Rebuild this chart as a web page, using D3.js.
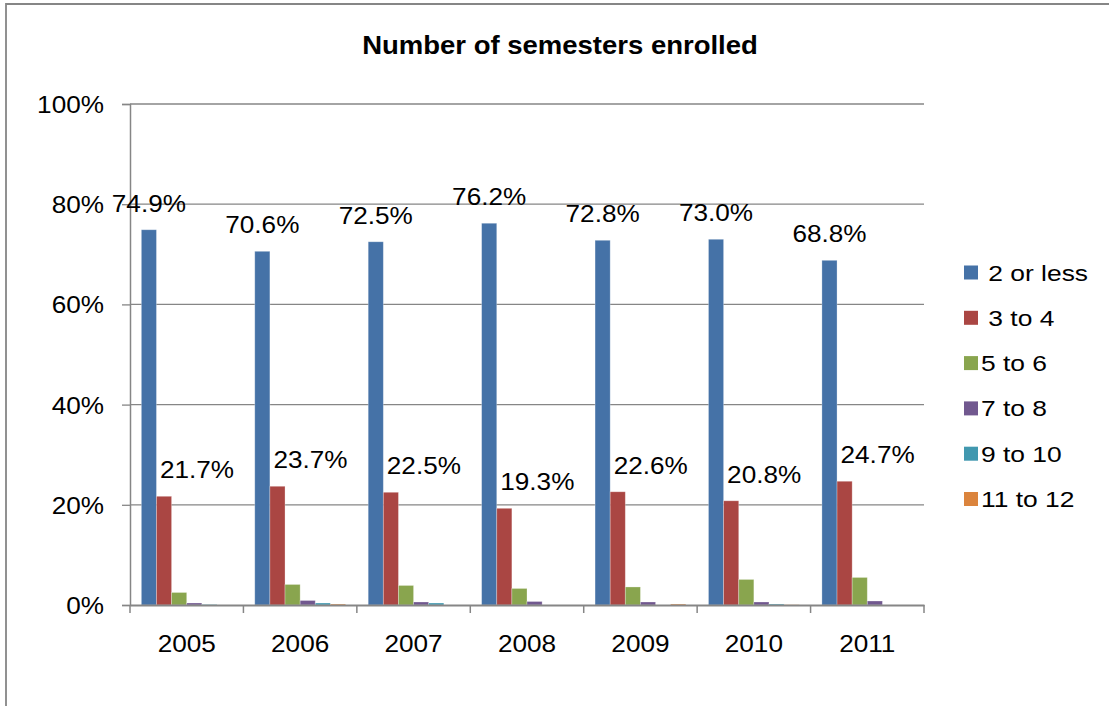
<!DOCTYPE html>
<html>
<head>
<meta charset="utf-8">
<script src="https://cdn.jsdelivr.net/npm/d3@7"></script>
<style>
  html, body { margin: 0; padding: 0; background: #fff; }
  svg { display: block; font-family: "Liberation Sans", Arial, sans-serif; }
  text { white-space: pre; }
</style>
</head>
<body>
<svg id="chart" width="1109" height="706"></svg>
<script>
// Share of students by number of semesters enrolled, per year (%)
const years = ["2005", "2006", "2007", "2008", "2009", "2010", "2011"];
const seriesNames = [" 2 or less", " 3 to 4", "5 to 6", "7 to 8", "9 to 10", "11 to 12"];
const twoOrLess   = [74.9, 70.6, 72.5, 76.2, 72.8, 73.0, 68.8];
const threeToFour = [21.7, 23.7, 22.5, 19.3, 22.6, 20.8, 24.7];
const fiveToSix   = [2.5, 4.1, 3.9, 3.3, 3.6, 5.1, 5.5];
const sevenToEight = [0.4, 0.9, 0.6, 0.7, 0.6, 0.6, 0.8];
const nineToTen   = [0.1, 0.4, 0.4, 0.0, 0.0, 0.2, 0.0];
const elevenToTwelve = [0.0, 0.2, 0.0, 0.0, 0.2, 0.05, 0.0];
const yTicks = [0, 20, 40, 60, 80, 100];
const colors = ["#4572A7", "#AA4643", "#89A54E", "#71588F", "#4198AF", "#DB843D"];

const seriesValues = [twoOrLess, threeToFour, fiveToSix, sevenToEight, nineToTen, elevenToTwelve];
const labelledSeries = [0, 1];

const svg = d3.select("#chart");
const axisColor = "#868686";
const stretch = 1.09;

// outer chart frame
svg.append("path")
  .attr("d", "M6,712 L6,4 L1115,4")
  .attr("fill", "none").attr("stroke", axisColor).attr("stroke-width", 1.8);

const plot = { left: 130, right: 924, top: 104, bottom: 605 };

const x0 = d3.scaleBand().domain(years).range([plot.left, plot.right]).paddingInner(0).paddingOuter(0);
// gap between clusters equals 1.5 bar widths
const barW = x0.bandwidth() / (seriesNames.length + 1.5);
const x1 = d3.scaleBand().domain(d3.range(seriesNames.length))
  .range([barW * 0.75, barW * 0.75 + barW * seriesNames.length]);
const y = d3.scaleLinear().domain([0, 100]).range([plot.bottom, plot.top]);

function stretchedText(sel, x, yy) {
  return sel.attr("transform", `translate(${x},${yy}) scale(${stretch},1)`);
}

// gridlines
svg.append("g").selectAll("line").data(yTicks.filter(t => t > 0)).join("line")
  .attr("x1", plot.left).attr("x2", plot.right)
  .attr("y1", d => y(d)).attr("y2", d => y(d))
  .attr("stroke", axisColor).attr("stroke-width", 1.3);

// y axis
const yAxis = svg.append("g").attr("transform", `translate(${plot.left},0)`)
  .call(d3.axisLeft(y).tickValues(yTicks).tickSize(8).tickFormat(d => d + "%"));
yAxis.select(".domain").attr("stroke", axisColor).attr("stroke-width", 1.5);
yAxis.selectAll(".tick line").attr("stroke", axisColor).attr("stroke-width", 1.3);
yAxis.selectAll(".tick text").remove();
yAxis.selectAll(".tick").append("text")
  .attr("text-anchor", "end").attr("fill", "#000").attr("font-size", 24)
  .attr("transform", `translate(-26,8.5) scale(${stretch},1)`)
  .text(d => d + "%");

// bars
const groups = svg.append("g").selectAll("g").data(years).join("g")
  .attr("transform", d => `translate(${x0(d)},0)`);
groups.selectAll("rect")
  .data((yr, i) => seriesValues.map((vals, s) => ({ s, v: vals[i] })))
  .join("rect")
  .attr("x", d => x1(d.s))
  .attr("width", x1.bandwidth())
  .attr("y", d => y(d.v))
  .attr("height", d => y(0) - y(d.v))
  .attr("fill", d => colors[d.s])
  .attr("stroke", "rgba(255,255,255,0.35)").attr("stroke-width", 0.8);

// x axis
const xAxis = svg.append("g").attr("transform", `translate(0,${plot.bottom})`)
  .call(d3.axisBottom(x0).tickSize(0).tickFormat(""));
xAxis.select(".domain").attr("stroke", axisColor).attr("stroke-width", 1.8);
xAxis.selectAll(".tick").remove();
const boundaries = years.map(d => x0(d)).concat([plot.right]);
xAxis.selectAll(".bnd").data(boundaries).join("line").attr("class", "bnd")
  .attr("x1", d => d).attr("x2", d => d).attr("y1", 0).attr("y2", 8)
  .attr("stroke", axisColor).attr("stroke-width", 1.5);
svg.append("g").selectAll("text").data(years).join("text")
  .attr("text-anchor", "middle").attr("font-size", 24).attr("fill", "#000")
  .each(function (d) { stretchedText(d3.select(this), x0(d) + x0.bandwidth() / 2, 652); })
  .text(d => d);

// value labels for the two largest series
const labelOffset = [0, 33];
labelledSeries.forEach(s => {
  svg.append("g").selectAll("text").data(years).join("text")
    .attr("text-anchor", "middle").attr("font-size", 24).attr("fill", "#000")
    .each(function (d, i) {
      const cx = x0(d) + x1(s) + x1.bandwidth() / 2 + labelOffset[s];
      stretchedText(d3.select(this), cx, y(seriesValues[s][i]) - 18);
    })
    .text((d, i) => seriesValues[s][i].toFixed(1) + "%");
});

// title
svg.append("text")
  .attr("text-anchor", "middle").attr("font-size", 25).attr("font-weight", "bold").attr("fill", "#000")
  .attr("transform", `translate(560,54) scale(1.1,1)`)
  .text("Number of semesters enrolled");

// legend
const legend = svg.append("g").selectAll("g").data(seriesNames).join("g")
  .attr("transform", (d, i) => `translate(964,${272.5 + i * 45.3})`);
legend.append("rect").attr("x", 0).attr("y", -7).attr("width", 14).attr("height", 14)
  .attr("fill", (d, i) => colors[i]);
legend.append("text")
  .attr("font-size", 22).attr("fill", "#000")
  .attr("transform", `translate(17,8) scale(1.2,1)`)
  .text(d => d);
</script>
</body>
</html>
